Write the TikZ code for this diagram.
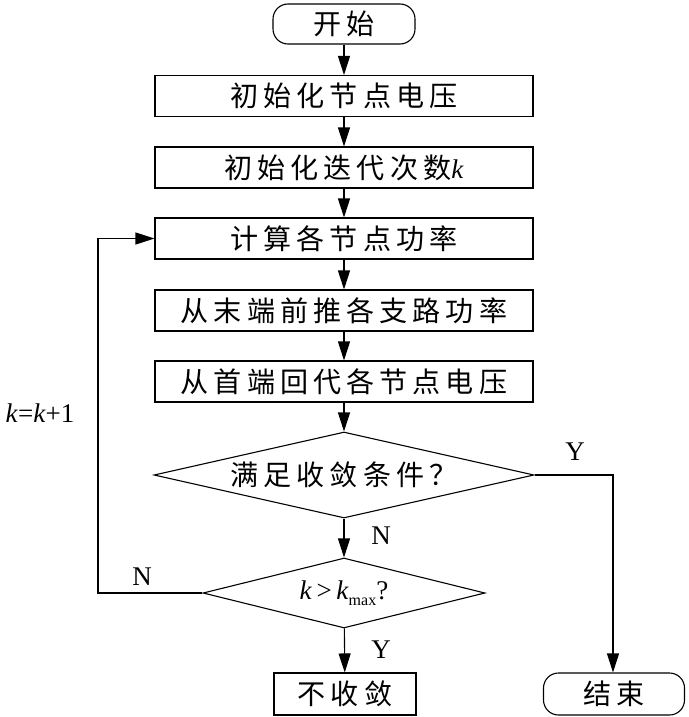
\documentclass[tikz,border=0pt]{standalone}
\usepackage{fontspec}
\setmainfont{Liberation Serif}
\newfontfamily\cjk[LetterSpace=18,Scale=1.04]{Noto Sans CJK SC}
\usetikzlibrary{shapes.geometric,arrows.meta}
\newcommand{\subsm}[1]{\raisebox{-6pt}{\fontsize{16}{16}\selectfont #1}}
\begin{document}
\begin{tikzpicture}[x=1pt,y=-1pt,
  every node/.style={font=\fontsize{27}{30}\selectfont},
  box/.style={draw, line width=1.1pt, minimum width=378pt, minimum height=41pt, inner sep=0pt},
  term/.style={draw, line width=1.1pt, rounded corners=15pt, minimum width=142pt, minimum height=40pt, inner sep=0pt},
  dia/.style={draw, shape=diamond, line width=1.1pt, inner sep=0pt},
  arr/.style={-{Triangle[length=19pt,width=12pt]}, line width=1.1pt},
  ln/.style={line width=1.1pt},
  lbl/.style={inner sep=0pt}
]
\useasboundingbox (0,0) rectangle (688,717);

\node[term] (start) at (344,24) {\cjk 开始};
\node[box] (b1) at (344,96) {\cjk 初始化节点电压};
\node[box] (b2) at (344,167.5) {{\cjk 初始化迭代次数}\textit{k}};
\node[box] (b3) at (344,238.5) {\cjk 计算各节点功率};
\node[box] (b4) at (344,310.5) {\cjk 从末端前推各支路功率};
\node[box] (b5) at (344,381.5) {\cjk 从首端回代各节点电压};
\node[dia, minimum width=380pt, minimum height=86pt, aspect=4.4] (d1) at (344,475) {\cjk 满足收敛条件？};
\node[dia, minimum width=282pt, minimum height=70pt, aspect=4] (d2) at (344,593) {\textit{k}\,>\,\textit{k}\subsm{max}?};
\node[box, minimum width=142pt, minimum height=42pt] (nc) at (345,694) {\cjk 不收敛};
\node[term, minimum width=141pt, minimum height=42pt] (end) at (614,694) {\cjk 结束};

\coordinate (lb) at (98,593);
\coordinate (lt) at (98,238.5);
\coordinate (rt) at (613,475);

\draw[arr] (start) -- (b1);
\draw[arr] (b1) -- (b2);
\draw[arr] (b2) -- (b3);
\draw[arr] (b3) -- (b4);
\draw[arr] (b4) -- (b5);
\draw[arr] (b5) -- (d1);
\draw[arr] (d1) -- (d2);
\draw[arr] (d2) -- (nc);
\draw[arr] (d2.west) -- (lb) -- (lt) -- (b3.west);
\draw[arr] (d1.east) -- (rt) -- (rt |- end.north);

\node[lbl] (kinc) at (40,413) {\textit{k}=\textit{k}+1};
\node[lbl] (n1) at (142,577) {N};
\node[lbl] (y1) at (575,452) {Y};
\node[lbl] (n2) at (381,536) {N};
\node[lbl] (y2) at (381,650) {Y};
\end{tikzpicture}
\end{document}
